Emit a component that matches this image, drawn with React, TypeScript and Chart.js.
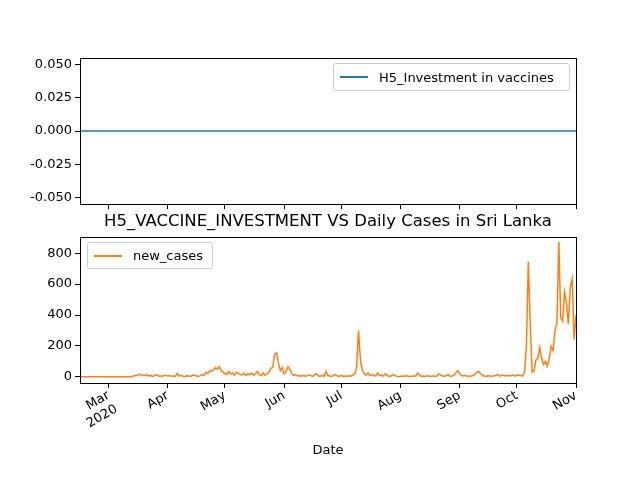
import { useEffect, useRef } from "react"
import { Chart, registerables } from "chart.js"

Chart.register(...registerables)

// day 0 = 2020-02-15
const febCases = [0,0,0,0,0,0,0,0,0,0,0,0,0,0,0]
const marCases = [0,0,0,0,0,0,0,0,0,0,0,2,1,5,8,10,18,12,10,8,15,5,10,3,8,14,5,6,2,10,8]
const aprCases = [5,8,4,6,3,22,5,10,4,2,7,5,3,10,12,5,3,6,15,8,30,20,40,35,45,60,50,66,40,30]
const mayCases = [20,15,35,18,25,10,30,22,15,12,25,8,20,14,25,10,18,35,12,8,25,10,20,30,55,60,145,155,90,40,60]
const junCases = [20,35,65,50,20,10,15,5,8,3,10,4,6,12,8,3,15,20,5,4,10,3,35,8,5,3,10,15,5,4]
const julCases = [8,3,5,2,6,4,10,20,60,300,110,40,20,10,25,8,15,10,5,25,8,12,4,20,10,3,5,15,8,4,2]
const augCases = [3,5,2,8,3,2,4,6,5,25,10,3,5,2,8,4,3,6,2,5,20,10,5,4,8,15,3,5,10,25,40]
const sepCases = [20,8,5,10,3,6,4,8,15,30,35,20,10,5,3,8,4,6,5,10,15,3,12,8,5,10,6,8,12,5]
const octCases = [10,12,8,5,30,200,744,350,30,40,110,120,190,120,80,100,70,120,200,170,300,350,873,380,360,550,480,340,580,635,240,400]

const newCases = [...febCases, ...marCases, ...aprCases, ...mayCases, ...junCases, ...julCases, ...augCases, ...sepCases, ...octCases]
const investment = newCases.map(() => 0)

const monthDays = [15, 46, 76, 107, 137, 168, 199, 229, 260]
const monthLabels = ["Mar\n2020", "Apr", "May", "Jun", "Jul", "Aug", "Sep", "Oct", "Nov"]
const topTicks = [-0.05, -0.025, 0, 0.025, 0.05]
const bottomTicks = [0, 200, 400, 600, 800]

const FONT = "'DejaVu Sans', sans-serif"

const boxPlugin = {
  id: "box",
  afterDraw(chart: Chart) {
    const { ctx, chartArea: a } = chart
    ctx.save()
    ctx.strokeStyle = "#000"
    ctx.lineWidth = 1
    ctx.strokeRect(Math.round(a.left) + 0.5, Math.round(a.top) + 0.5, Math.round(a.right - a.left), Math.round(a.bottom - a.top))
    ctx.restore()
  },
}

function makeConfig(data: number[], color: string, yMin: number, yMax: number, yTicks: number[], fmt: (v: number) => string, showX: boolean, padTop: number, xHeight: number, padBottom: number): any {
  return {
    type: "line",
    data: {
      datasets: [{
        data: data.map((v, i) => ({ x: i, y: v })),
        borderColor: color,
        borderWidth: 1.5,
        pointRadius: 0,
        tension: 0,
      }],
    },
    options: {
      animation: false,
      responsive: false,
      layout: { padding: { top: padTop, right: 64, left: 0, bottom: padBottom } },
      plugins: { legend: { display: false }, tooltip: { enabled: false } },
      scales: {
        x: {
          type: "linear",
          min: 0,
          max: 260,
          afterFit: (s: any) => { s.height = xHeight },
          afterBuildTicks: (s: any) => { s.ticks = monthDays.map((v) => ({ value: v })) },
          grid: { drawOnChartArea: false, drawTicks: true, tickLength: 5, color: "#000" },
          border: { display: true, color: "#000" },
          ticks: {
            display: showX,
            color: "#000",
            padding: 0,
            font: { family: FONT, size: 13 },
            maxRotation: 30,
            minRotation: 30,
            autoSkip: false,
            callback: (v: number) => {
              const i = monthDays.indexOf(v)
              return i >= 0 ? monthLabels[i].split("\n") : ""
            },
          },
          title: { display: showX, text: "Date", color: "#000", font: { family: FONT, size: 13 } },
        },
        y: {
          min: yMin,
          max: yMax,
          afterFit: (s: any) => { s.width = 80 },
          afterBuildTicks: (s: any) => { s.ticks = yTicks.map((v) => ({ value: v })) },
          grid: { drawOnChartArea: false, drawTicks: true, tickLength: 5, color: "#000" },
          border: { display: true, color: "#000" },
          ticks: { color: "#000", font: { family: FONT, size: 13 }, callback: (v: number) => fmt(v) },
        },
      },
    },
    plugins: [boxPlugin],
  }
}

export default function App() {
  const topRef = useRef<HTMLCanvasElement>(null)
  const bottomRef = useRef<HTMLCanvasElement>(null)

  useEffect(() => {
    if (!topRef.current || !bottomRef.current) return
    const top = new Chart(topRef.current, makeConfig(investment, "#1f77b4", -0.055, 0.055, topTicks, (v) => v.toFixed(3), false, 58, 10, 0))
    const bottom = new Chart(bottomRef.current, makeConfig(newCases, "#ff7f0e", -40, 905, bottomTicks, (v) => String(v), true, 22, 79, 18))
    return () => {
      top.destroy()
      bottom.destroy()
    }
  }, [])

  const legendBox: React.CSSProperties = {
    position: "absolute",
    border: "1px solid #ccc",
    borderRadius: 3,
    background: "rgba(255,255,255,0.8)",
    display: "flex",
    alignItems: "center",
    fontFamily: FONT,
    fontSize: 13,
    color: "#000",
    boxSizing: "border-box",
    padding: "0 6px",
  }

  return (
    <div style={{ position: "absolute", left: 0, top: 0, width: 640, height: 480, background: "#fff" }}>
      <canvas ref={topRef} width={640} height={215} style={{ position: "absolute", left: 0, top: 0 }} />
      <canvas ref={bottomRef} width={640} height={265} style={{ position: "absolute", left: 0, top: 215 }} />
      <div style={{ position: "absolute", left: 80, width: 496, top: 211, textAlign: "center", fontFamily: FONT, fontSize: 16.5, color: "#000" }}>
        H5_VACCINE_INVESTMENT VS Daily Cases in Sri Lanka
      </div>
      <div style={{ ...legendBox, left: 333, top: 63, width: 237, height: 28 }}>
        <span style={{ width: 28, height: 2, background: "#1f77b4", marginRight: 11 }} />
        H5_Investment in vaccines
      </div>
      <div style={{ ...legendBox, left: 87, top: 242, width: 126, height: 27 }}>
        <span style={{ width: 28, height: 2, background: "#ff7f0e", marginRight: 11 }} />
        new_cases
      </div>
    </div>
  )
}
